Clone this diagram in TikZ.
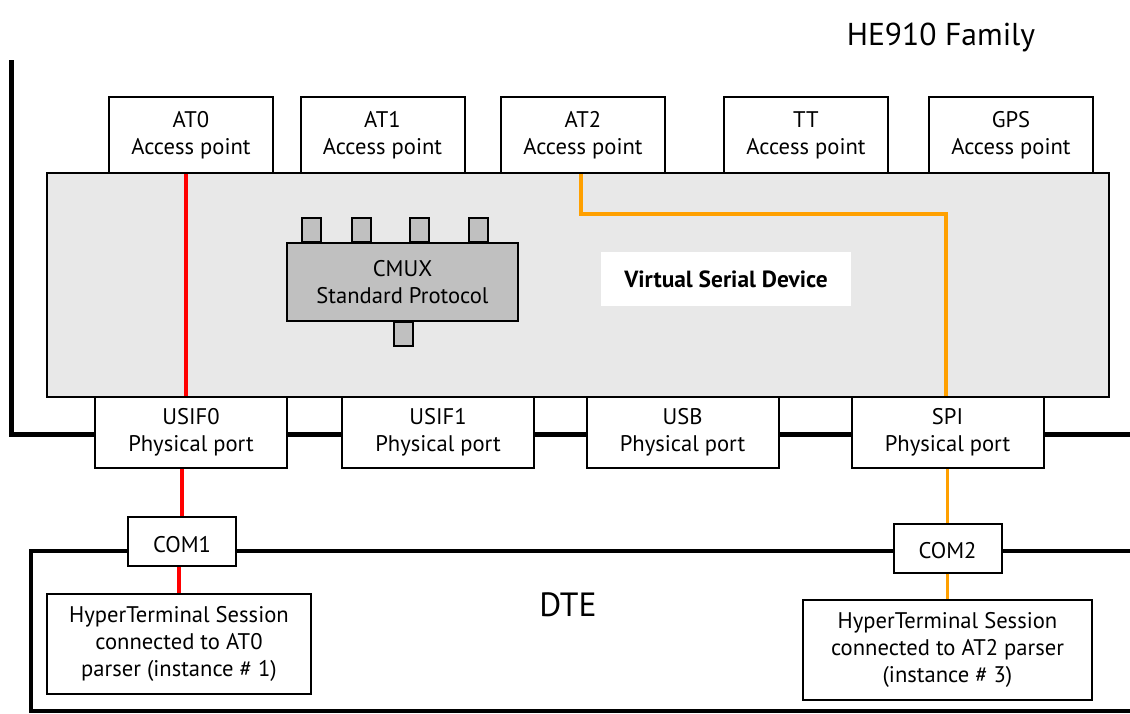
\documentclass[tikz,border=0pt]{standalone}
\usepackage{fontspec}
\setmainfont{PT Sans}
\usetikzlibrary{positioning}
\definecolor{vsdgray}{HTML}{E8E8E8}
\definecolor{cmuxgray}{HTML}{C0C0C0}
\definecolor{linkorange}{HTML}{FFA000}

\begin{document}
\begin{tikzpicture}
  [x=0.5pt, y=-0.5pt,
   box/.style={draw, line width=1pt, fill=white, align=center, inner sep=0pt,
     font=\fontsize{11.3}{13.5}\selectfont,
     execute at begin node={\rule{0pt}{11pt}}},
   apoint/.style={box, minimum width=82pt, minimum height=38pt},
   pport/.style={box, minimum width=96pt, minimum height=35.5pt},
   comport/.style={box, minimum width=54pt, minimum height=24.5pt},
   session/.style={box, minimum height=50pt},
   tab/.style={draw, line width=1pt, fill=cmuxgray, minimum width=9.5pt,
     minimum height=12pt, inner sep=0pt},
   frame/.style={line width=2.5pt},
   redlink/.style={red, line width=1.7pt},
   orangelink/.style={linkorange, line width=1.7pt}]
  \useasboundingbox (0,0) rectangle (1130,713);

  % module and DTE outlines
  \draw[frame] (11,60) -- (11,434) -- (1130,434);
  \draw[line width=1.8pt] (1130,551) -- (31,551) -- (31,711) -- (1130,711);
  \node[font=\fontsize{15.8}{18}\selectfont] (family) at (941,37) {HE910 Family};

  % virtual serial device
  \node[draw, line width=1pt, fill=vsdgray, minimum width=531pt,
    minimum height=112pt] (vsd) at (578,285) {};
  \node[fill=white, minimum width=125pt, minimum height=27pt,
    font=\fontsize{11.7}{13}\selectfont\bfseries] (vsdlabel) at (726,279)
    {Virtual Serial Device};

  % access points
  \node[apoint] (at0) at (191,135) {AT0\\Access point};
  \node[apoint] (at1) at (382.5,135) {AT1\\Access point};
  \node[apoint] (at2) at (583,135) {AT2\\Access point};
  \node[apoint] (tt)  at (806,135) {TT\\Access point};
  \node[apoint] (gps) at (1011,135) {GPS\\Access point};

  % cmux block
  \node[box, fill=cmuxgray, minimum width=115.5pt, minimum height=39pt]
    (cmux) at (402.5,282) {CMUX\\Standard Protocol};
  \foreach \x/\n in {311.5/a, 361.5/b, 419.5/c, 478.5/d}
    \node[tab, anchor=south] (tab\n) at (\x,243) {};
  \node[tab, anchor=north] (tabe) at (403.5,321) {};

  % physical ports
  \node[pport] (usif0) at (191,432.5) {USIF0\\Physical port};
  \node[pport] (usif1) at (438,432.5) {USIF1\\Physical port};
  \node[pport] (usb)   at (682.5,432.5) {USB\\Physical port};
  \node[pport] (spi)   at (947.5,432.5) {SPI\\Physical port};

  % DTE side
  \node[font=\fontsize{16.8}{18}\selectfont] (dte) at (568,605) {DTE};
  \node[comport] (com1) at (182,541.5) {COM1};
  \node[comport] (com2) at (947.5,548) {COM2};
  \node[session, minimum width=132pt] (ht1) at (179,643.5)
    {HyperTerminal Session\\connected to AT0\\parser (instance \# 1)};
  \node[session, minimum width=144.5pt] (ht2) at (947.5,650)
    {HyperTerminal Session\\connected to AT2 parser\\(instance \# 3)};

  % links
  \draw[redlink] ([xshift=-2.5pt]at0.south) -- ([xshift=-2.5pt]at0.south |- usif0.north);
  \draw[redlink] (com1.north |- usif0.south) -- (com1.north);
  \draw[redlink] (com1.south -| ht1.north) -- (ht1.north);
  \draw[orangelink] ([xshift=-1pt]at2.south) -- ++(0,40) -| ([xshift=-0.75pt]spi.north);
  \draw[orangelink] (spi.south) -- (com2.north);
  \draw[orangelink] (com2.south) -- (ht2.north);
\end{tikzpicture}
\end{document}
